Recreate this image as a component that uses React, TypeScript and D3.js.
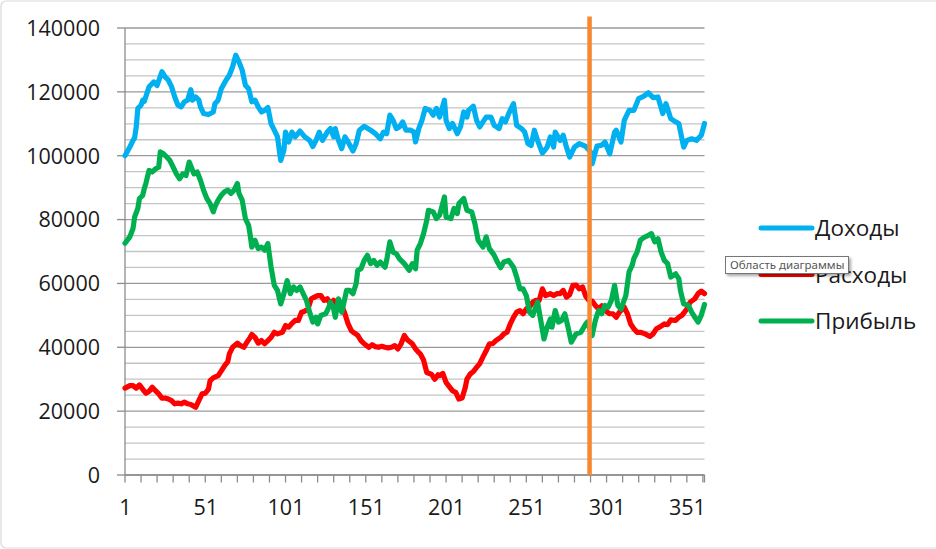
import React from 'react';
import * as d3 from 'd3';

const seriesNames = ['Доходы', 'Расходы', 'Прибыль'];
const seriesColors = ['#00B0F0', '#FF0000', '#00B050'];
const xTickLabels = [1, 51, 101, 151, 201, 251, 301, 351];
const yTickValues = [0, 20000, 40000, 60000, 80000, 100000, 120000, 140000];
const dayCount = 362;
const markerDay = 290.4;
const markerTop = 143600;
const tooltipText = 'Область диаграммы';

const income: [number, number][] = [
  [1,100000],[4,102700],[6,104800],[7,105600],[8,109000],[9,114800],[11,115800],[12,117400],[13,117000],[16,121600],
  [19,123100],[21,122000],[24,126300],[26,124700],[28,123700],[30,121600],[32,118400],[34,115800],[36,115300],[38,116900],
  [40,117400],[42,120700],[43,117400],[45,118400],[47,117400],[48,115300],[50,113200],[53,112900],[56,113700],[57,116300],
  [59,117400],[61,121000],[64,123700],[66,125200],[68,127800],[70,131500],[72,129400],[74,126800],[76,122100],[78,121000],
  [80,116900],[82,117400],[84,115300],[86,113700],[88,114200],[90,115100],[92,110000],[94,108000],[96,105900],[98,98500],
  [100,101700],[101,107400],[103,104300],[105,107400],[107,105900],[110,107700],[113,105900],[116,104800],[118,102900],[120,104800],
  [122,107400],[124,104800],[127,107400],[129,108500],[131,105900],[132,108500],[134,104800],[136,102200],[138,105900],[140,104300],
  [143,101500],[145,103800],[147,108000],[150,109200],[154,108000],[157,106900],[160,105300],[162,107400],[164,106900],[166,112700],
  [168,111100],[170,108500],[172,109000],[174,110600],[176,108000],[179,108000],[181,107400],[182,104300],[184,108500],[186,111100],
  [188,114800],[191,114200],[193,112700],[195,114800],[197,112100],[200,117400],[201,111100],[203,108500],[205,110100],[208,106900],
  [210,109000],[212,113700],[214,112100],[215,114200],[218,115500],[220,111100],[222,109000],[224,110600],[226,112100],[229,112100],
  [231,109500],[234,108500],[236,111600],[238,110600],[240,113200],[243,116300],[245,109500],[248,108500],[250,107400],[252,103800],
  [254,103200],[256,108000],[258,104800],[261,100800],[264,102700],[266,105900],[268,102700],[269,107400],[272,104800],[274,106400],
  [276,102700],[278,99600],[281,102700],[284,103800],[288,102900],[291,101200],[292,97500],[295,103000],[298,103300],[300,104300],
  [303,100600],[306,107400],[307,108000],[310,104300],[312,111100],[315,114200],[318,114200],[321,117900],[324,118600],[327,119700],
  [330,118200],[333,118400],[336,113200],[338,116300],[341,111600],[344,110600],[346,110100],[349,102700],[351,104800],[354,105300],
  [357,104800],[360,106400],[362,110100],
];

const expenses: [number, number][] = [
  [1,27200],[4,28000],[6,28000],[8,27200],[10,28200],[12,26900],[14,25600],[16,26200],[18,27500],[20,26400],
  [22,25400],[24,24100],[26,24100],[28,23800],[30,23300],[32,22300],[34,22500],[36,22300],[38,22800],[40,22300],
  [42,22100],[45,21200],[47,23300],[49,25400],[51,25600],[53,26900],[54,29500],[56,30400],[59,31100],[61,32600],
  [63,34200],[65,35500],[66,37900],[68,40000],[71,41300],[73,40500],[75,40000],[77,41600],[79,43100],[80,44000],
  [82,43100],[84,41300],[86,42100],[88,41100],[90,42100],[92,43100],[94,44700],[96,44200],[99,44700],[101,46800],
  [103,46300],[105,47500],[107,48400],[109,48400],[111,51000],[113,51300],[115,52000],[117,55200],[119,55700],[121,56200],
  [123,56200],[125,54700],[127,55200],[129,53600],[131,54700],[133,53600],[134,54700],[136,53100],[138,50500],[140,47300],
  [142,45200],[144,44400],[146,43700],[148,42100],[150,41100],[153,40000],[155,40800],[157,40200],[159,40000],[161,40300],
  [163,40000],[165,39800],[167,40000],[169,40500],[171,39500],[173,41100],[175,43700],[177,42300],[180,41100],[182,39500],
  [184,38400],[185,37900],[187,36000],[189,32100],[192,31500],[194,30000],[196,31400],[197,31100],[199,31800],[201,29000],
  [203,27700],[205,26400],[207,25900],[209,23800],[211,24100],[213,27500],[214,30000],[216,31600],[218,32400],[220,33700],
  [222,34900],[224,37000],[226,38900],[228,41100],[230,41100],[232,42100],[235,43100],[237,44200],[239,44700],[241,47300],
  [243,49400],[245,51000],[247,51500],[249,50500],[251,52000],[253,52600],[255,54100],[257,54700],[259,54700],[261,58300],
  [263,56200],[266,56800],[268,56200],[270,56800],[272,56800],[274,57800],[276,55700],[278,56500],[280,59400],[282,59500],
  [284,58300],[286,58900],[288,56000],[290,54700],[292,54500],[294,53100],[296,52000],[298,53000],[301,51200],[303,50500],
  [305,50500],[307,49400],[309,51000],[312,52600],[314,50500],[316,47300],[318,45800],[320,44700],[322,44700],[325,44200],
  [328,43400],[330,44200],[332,45800],[334,46300],[337,47300],[339,47100],[341,48600],[344,48400],[346,49400],[348,50000],
  [351,52000],[353,54100],[356,55200],[358,56800],[360,57600],[362,56800],
];

const profit: [number, number][] = [
  [1,72600],[4,74600],[6,77200],[7,80800],[9,83500],[10,86600],[12,87600],[13,89700],[14,91300],[16,95400],
  [18,94900],[20,95900],[22,96400],[23,101200],[25,100600],[27,99600],[29,98500],[31,96400],[33,94300],[35,92800],
  [37,94300],[39,93800],[41,98000],[44,94300],[46,94900],[48,92300],[50,89100],[52,86600],[54,85000],[56,82400],
  [57,84000],[59,86100],[61,87600],[63,88700],[65,89200],[67,88200],[69,89200],[71,91300],[72,88200],[74,86100],
  [76,80300],[78,78200],[79,75100],[80,71400],[82,73500],[84,70900],[86,71400],[88,70400],[90,72500],[92,65100],
  [94,59400],[96,57800],[98,53600],[100,56800],[102,60900],[104,56800],[106,58900],[108,57800],[110,58900],[112,56800],
  [114,54700],[116,51000],[118,47900],[120,49400],[121,47300],[123,50000],[126,50500],[128,52600],[129,54100],[131,52000],
  [132,49400],[134,55200],[136,51000],[137,53100],[139,57800],[141,57800],[143,56800],[145,59900],[146,64100],[148,64600],
  [150,67200],[152,68800],[154,66200],[156,67200],[158,65700],[160,66700],[163,65100],[164,67200],[166,73000],[168,69800],
  [170,69300],[172,67700],[175,66200],[178,64100],[180,66200],[182,64600],[183,70400],[185,72500],[187,75600],[189,79800],
  [190,82900],[193,82400],[195,80300],[197,81400],[200,87100],[201,80800],[204,80300],[206,83500],[208,81900],[209,85000],
  [212,86600],[214,82900],[217,82400],[219,78700],[221,73500],[224,71400],[226,74600],[228,70900],[231,68800],[233,66700],
  [235,64900],[237,66700],[240,67200],[243,65100],[245,62000],[247,58300],[249,58300],[251,56200],[253,51000],[255,50000],
  [258,54100],[260,48400],[262,42600],[264,46300],[266,48900],[267,46300],[269,51500],[271,47900],[273,48400],[275,50500],
  [277,46300],[279,41600],[282,44200],[285,44700],[288,47300],[289,47900],[292,43700],[294,48400],[296,51500],[298,50500],
  [300,53100],[302,52600],[304,54700],[306,59400],[308,53100],[310,52000],[313,56200],[315,63600],[317,65700],[318,67800],
  [320,69800],[322,73500],[324,74300],[326,74800],[329,75600],[331,73000],[333,74000],[335,69800],[337,67200],[339,66200],
  [341,62000],[344,63000],[346,61500],[347,57800],[349,53600],[352,53100],[354,51000],[356,49400],[358,47900],[360,50000],
  [362,53400],
];

const seriesData = [income, expenses, profit];

const W = 936;
const H = 549;
const FONT = '"Open Sans", "Noto Sans", sans-serif';

export default function App() {
  const x = d3.scaleLinear().domain([1, dayCount]).range([125, 704.5]);
  const y = d3.scaleLinear().domain([0, 140000]).range([475, 28]);
  const line = d3
    .line<[number, number]>()
    .x((d) => x(d[0]))
    .y((d) => y(d[1]));

  const minorTicks = d3.range(5000, 140001, 5000).filter((v) => v % 20000 !== 0);
  const xTickMarks = d3.range(1, dayCount + 1, 10).concat([dayCount]);
  const [x0, x1] = x.range();

  const legendY = [228, 274.5, 321];

  return (
    <svg
      width={W}
      height={H}
      style={{ position: 'absolute', left: 0, top: 0, background: '#fff' }}
      fontFamily={FONT}
    >
      <defs>
        <filter id="tipShadow" x="-10%" y="-30%" width="130%" height="180%">
          <feGaussianBlur in="SourceAlpha" stdDeviation="1.5" />
          <feOffset dx="2" dy="2" result="ob" />
          <feComponentTransfer>
            <feFuncA type="linear" slope="0.35" />
          </feComponentTransfer>
          <feMerge>
            <feMergeNode />
            <feMergeNode in="SourceGraphic" />
          </feMerge>
        </filter>
      </defs>
      <rect x={1} y={1} width={W + 20} height={H - 2} rx={5} fill="#fff" stroke="#d9d9d9" strokeWidth={1.2} />

      {minorTicks.map((v) => (
        <line key={'m' + v} x1={x0} x2={x1} y1={y(v)} y2={y(v)} stroke="#c4c4c4" strokeWidth={1.3} />
      ))}
      {yTickValues.map((v) => (
        <line key={'g' + v} x1={x0} x2={x1} y1={y(v)} y2={y(v)} stroke="#9a9a9a" strokeWidth={1.3} />
      ))}
      <line x1={x0} x2={x0} y1={y(0)} y2={y(140000)} stroke="#8c8c8c" strokeWidth={1.3} />
      {yTickValues.map((v) => (
        <line key={'yt' + v} x1={x0 - 8} x2={x0} y1={y(v)} y2={y(v)} stroke="#8c8c8c" strokeWidth={1.3} />
      ))}
      {yTickValues.map((v) => (
        <text key={'yl' + v} x={100} y={y(v) + 7.8} textAnchor="end" fontSize={21.5} fill="#1a1a1a">
          {v}
        </text>
      ))}
      <line x1={x0} x2={x1} y1={y(0)} y2={y(0)} stroke="#8c8c8c" strokeWidth={1.3} />
      {xTickMarks.map((d) => (
        <line key={'xt' + d} x1={x(d)} x2={x(d)} y1={y(0)} y2={y(0) + 7.5} stroke="#8c8c8c" strokeWidth={1.3} />
      ))}
      {xTickLabels.map((d) => (
        <text key={'xl' + d} x={x(d) + 0.5} y={515} textAnchor="middle" fontSize={21.5} fill="#1a1a1a">
          {d}
        </text>
      ))}

      {seriesData.map((s, i) => (
        <path
          key={'s' + i}
          d={line(s) || ''}
          fill="none"
          stroke={seriesColors[i]}
          strokeWidth={5.2}
          strokeLinejoin="round"
          strokeLinecap="round"
        />
      ))}

      <line
        x1={x(markerDay)}
        x2={x(markerDay)}
        y1={y(0)}
        y2={y(markerTop)}
        stroke="#F7882F"
        strokeWidth={4.5}
      />

      {seriesNames.map((n, i) => (
        <g key={'lg' + i}>
          <line
            x1={761}
            x2={812}
            y1={legendY[i]}
            y2={legendY[i]}
            stroke={seriesColors[i]}
            strokeWidth={5}
            strokeLinecap="round"
          />
          <text x={815} y={legendY[i] + 8} fontSize={22.5} fill="#1a1a1a">
            {n}
          </text>
        </g>
      ))}

      <g filter="url(#tipShadow)">
        <rect x={725.5} y={256.5} width={123} height={17} fill="#fff" stroke="#767676" strokeWidth={1} />
      </g>
      <text x={730} y={269} fontSize={11.5} fill="#575757" fontFamily='"Noto Sans", "Open Sans", sans-serif'>
        {tooltipText}
      </text>
    </svg>
  );
}
